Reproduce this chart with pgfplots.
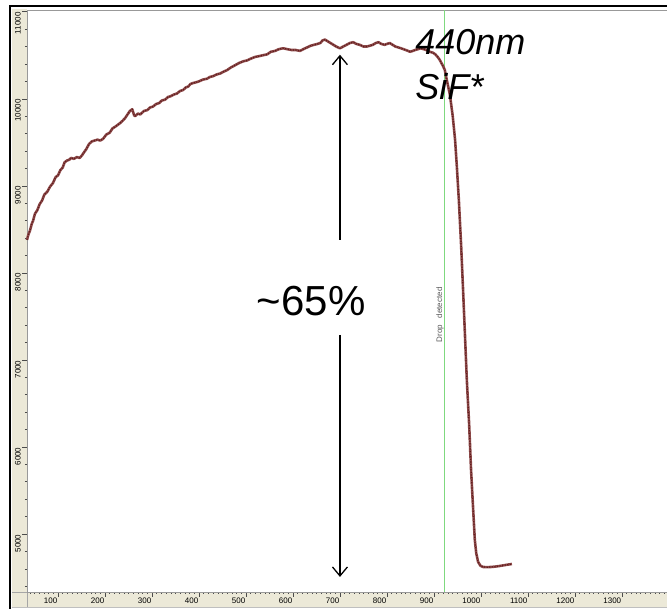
\documentclass[border=0pt]{standalone}
\usepackage{fontspec}
\setmainfont{Liberation Sans}
\usepackage{pgfplots}
\usepackage{pgfplotstable}
\pgfplotsset{compat=1.18}
\usetikzlibrary{arrows.meta}
\definecolor{beige}{HTML}{ECE9D8}
\definecolor{curve}{HTML}{8E4A4A}
\definecolor{curvedark}{HTML}{5E1C1C}
\definecolor{dropgreen}{HTML}{7FD97F}
\pgfplotstableread{
x y
34 8379
37 8440
40 8480
44 8560
47 8600
51 8680
56 8720
61 8790
66 8830
71 8900
77 8930
83 8990
89 9030
95 9100
100 9120
105 9180
110 9210
114 9270
119 9290
124 9300
128 9320
134 9310
140 9330
146 9320
151 9350
156 9390
160 9420
166 9480
172 9510
178 9520
184 9530
190 9520
196 9540
203 9590
210 9610
216 9660
222 9680
227 9700
232 9720
238 9750
243 9780
248 9820
253 9860
258 9880
262 9810
264 9800
270 9830
275 9820
283 9860
290 9870
296 9900
302 9910
309 9940
315 9950
321 9980
328 9990
334 10020
340 10030
347 10050
353 10060
360 10090
366 10100
372 10130
377 10140
382 10170
387 10180
394 10190
400 10200
408 10220
417 10230
423 10250
430 10260
438 10280
445 10290
452 10310
460 10330
468 10360
475 10380
485 10410
494 10430
502 10440
510 10460
519 10480
528 10490
536 10500
545 10510
553 10540
562 10550
570 10570
579 10580
588 10570
597 10560
606 10560
615 10550
622 10570
630 10590
638 10610
645 10620
652 10630
658 10640
663 10670
668 10680
674 10660
680 10640
686 10620
692 10600
700 10580
707 10600
714 10620
721 10640
728 10650
735 10630
742 10620
750 10600
757 10600
764 10610
770 10620
776 10640
782 10650
788 10630
795 10620
800 10630
806 10640
812 10620
818 10600
824 10590
830 10580
835 10570
840 10560
845 10550
849 10540
855 10550
860 10560
866 10570
872 10580
878 10570
884 10560
891 10540
898 10529
903 10510
908 10480
912 10450
915 10420
919 10380
923 10333
928 10200
934 10046
940 9800
945 9529
949 9200
953 8839
958 8300
962 7805
966 7290
970 6770
975 6250
979 5736
983 5330
987 4931
990 4780
994 4678
999 4635
1004 4621
1013 4618
1023 4621
1032 4626
1040 4632
1053 4644
1066 4655
}\curvedata
\begin{document}
\begin{tikzpicture}
\useasboundingbox (-27bp,-17bp) rectangle (640bp,592bp);
\fill[white] (-27bp,-17bp) rectangle (640bp,592bp);
% beige strips
\fill[beige] (-15bp,-15bp) rectangle (0bp,583bp);
\fill[beige] (-15bp,-15bp) rectangle (640bp,0bp);
\draw[gray!70, line width=0.6bp] (-15bp,0bp) -- (0bp,0bp) -- (0bp,-15bp);
\draw[gray!50, line width=0.6bp] (-15bp,-15bp) -- (640bp,-15bp);
\begin{axis}[
  name=ax, at={(0,0)}, anchor=south west,
  scale only axis, width=640bp, height=582bp,
  xmin=34, xmax=1396, ymin=4333, ymax=11020,
  axis line style={gray!80, line width=0.6bp},
  clip=false,
  tick align=outside, tick pos=left,
  major tick length=5bp, minor tick length=2bp,
  every tick/.style={gray!60!black, line width=0.5bp},
  xtick={100,200,...,1300},
  xticklabels={100,200,300,400,500,600,700,800,900,1000,1100,1200,1300},
  minor xtick={40,50,...,1390},
  ytick={5000,6000,...,11000},
  yticklabels={5000,6000,7000,8000,9000,10000,11000},
  minor ytick={4400,4600,...,11000},
  xticklabel style={anchor=north east, inner sep=0pt, font=\fontsize{8bp}{9bp}\selectfont, xshift=-0.5bp, yshift=-1bp},
  yticklabel style={rotate=90, anchor=south east, inner sep=0pt, font=\fontsize{8bp}{9bp}\selectfont, yshift=1bp, xshift=-0.5bp},
]
\addplot[dropgreen, line width=0.9bp] coordinates {(923,4333) (923,11020)};
\addplot[curve, line width=2.6bp, line join=round] table[x=x,y=y] {\curvedata};
\addplot[curvedark, line width=1.2bp, line join=round, dash pattern=on 1.2bp off 1.4bp] table[x=x,y=y] {\curvedata};
% annotations
\node[anchor=base west, inner sep=0pt, font=\fontsize{36bp}{40bp}\selectfont\itshape] at (axis cs:860,10506) {440nm};
\node[anchor=base west, inner sep=0pt, font=\fontsize{36bp}{40bp}\selectfont\itshape] at (axis cs:860,9989) {SiF*};
\node[anchor=base west, inner sep=0pt, font=\fontsize{42bp}{46bp}\selectfont] at (axis cs:523,7506) {\textasciitilde 65\%};
\draw[line width=1.3bp, -{Straight Barb[length=9bp,width=15bp,line width=1.3bp]}] (axis cs:700,8379) -- (axis cs:700,10506);
\draw[line width=1.3bp, -{Straight Barb[length=9bp,width=15bp,line width=1.3bp]}] (axis cs:700,7287) -- (axis cs:700,4506);
\node[rotate=90, inner sep=0pt, text=gray!70!black, font=\fontsize{8bp}{9bp}\selectfont] at (axis cs:913,7517) {Drop\ \ \ detected};
\end{axis}
% black frame
\draw[black, line width=2.5bp] (-17bp,-17bp) -- (-17bp,586bp) -- (640bp,586bp);
\end{tikzpicture}
\end{document}
